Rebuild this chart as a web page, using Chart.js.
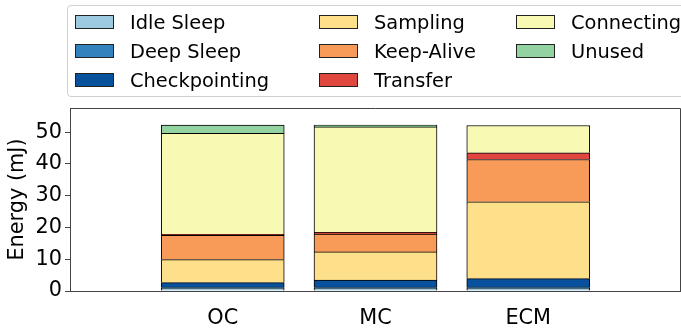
<!DOCTYPE html>
<html>
<head>
<meta charset="utf-8">
<script src="https://cdn.jsdelivr.net/npm/chart.js@4"></script>
<style>
  html, body { margin: 0; padding: 0; background: #fff; overflow: hidden; }
  #wrap { position: relative; width: 681px; height: 331px; overflow: hidden; }
  #legend {
    position: absolute; left: 67px; top: 5px; width: 622px; height: 92px;
    border: 1px solid #d0d0d0; border-radius: 4px; box-sizing: border-box;
    font-family: 'DejaVu Sans', sans-serif; font-size: 19.4px; color: #000;
  }
  .item { position: absolute; height: 24px; display: flex; align-items: center; white-space: nowrap; }
  .sw { width: 37px; height: 12px; border: 1px solid #222; margin-right: 16px; flex: none; }
</style>
</head>
<body>
<div id="wrap">
  <canvas id="c" width="681" height="331"></canvas>
  <div id="legend"></div>
</div>
<script>
// categories and values (mJ)
const categories = ['OC', 'MC', 'ECM'];
const idleSleep     = [1.0, 1.0, 1.0];
const deepSleep     = [0.2, 0.2, 0.2];
const checkpointing = [1.45, 2.2, 2.7];
const sampling      = [7.25, 8.9, 24.2];
const keepAlive     = [7.6, 5.6, 13.3];
const transfer      = [0.3, 0.6, 2.1];
const connecting    = [31.85, 33.2, 8.6];
const unused        = [2.55, 0.5, 0];
const yTicks = [0, 10, 20, 30, 40, 50];

const seriesNames  = ['Idle Sleep', 'Deep Sleep', 'Checkpointing', 'Sampling', 'Keep-Alive', 'Transfer', 'Connecting', 'Unused'];
const seriesValues = [idleSleep, deepSleep, checkpointing, sampling, keepAlive, transfer, connecting, unused];
const seriesColors = ['#9ecae1', '#3182bd', '#08519c', '#fee08b', '#f99b58', '#e0473f', '#f8fab3', '#93d3a2'];

const FONT = { family: 'DejaVu Sans', size: 20.8 };

// pad with empty slots so the 3 bars sit at -1..3 like the original xlim
const labels = [''].concat(categories, ['']);
const pad = arr => [null].concat(arr, [null]);

const datasets = seriesNames.map((name, i) => ({
  label: name,
  data: pad(seriesValues[i]),
  backgroundColor: seriesColors[i],
  borderColor: '#000',
  borderWidth: 1,
  barThickness: 123
}));

// frame top + right like matplotlib spines
const frame = {
  id: 'frame',
  afterDatasetsDraw(chart) {
    const a = chart.chartArea, ctx = chart.ctx;
    ctx.save();
    ctx.strokeStyle = '#444';
    ctx.lineWidth = 1;
    ctx.beginPath();
    ctx.moveTo(a.left, a.top + 0.5);
    ctx.lineTo(a.right - 0.5, a.top + 0.5);
    ctx.lineTo(a.right - 0.5, a.bottom);
    ctx.stroke();
    ctx.restore();
  }
};

new Chart(document.getElementById('c'), {
  type: 'bar',
  data: { labels: labels, datasets: datasets },
  plugins: [frame],
  options: {
    responsive: false,
    animation: false,
    layout: { padding: { top: 108, right: 0, left: 0, bottom: 0 } },
    plugins: { legend: { display: false }, tooltip: { enabled: false } },
    scales: {
      x: {
        stacked: true,
        offset: false,
        afterFit: s => { s.height = 40; s.paddingLeft = 0; s.paddingRight = 0; },
        border: { display: true, color: '#444', width: 1 },
        grid: { offset: false, drawOnChartArea: false, tickLength: 5, color: 'rgba(0,0,0,0)' },
        ticks: { color: '#000', font: FONT, padding: 10, maxRotation: 0, autoSkip: false }
      },
      y: {
        stacked: true,
        min: 0,
        max: 57.6,
        afterFit: s => { s.width = 70; },
        afterBuildTicks: s => { s.ticks = yTicks.map(v => ({ value: v })); },
        border: { display: true, color: '#444', width: 1 },
        grid: { drawOnChartArea: false, tickLength: 5, color: '#444' },
        ticks: { color: '#000', font: FONT, padding: 3 },
        title: { display: true, text: 'Energy (mJ)', color: '#000', font: FONT, padding: { top: 5, bottom: 0 } }
      }
    }
  }
});

// matplotlib-style 3-column legend, column-major order
const legendEl = document.getElementById('legend');
const colX = [7, 251, 448];
const rowY = [4, 33, 62];
seriesNames.forEach((name, i) => {
  const col = Math.floor(i / 3), row = i % 3;
  const item = document.createElement('div');
  item.className = 'item';
  item.style.left = colX[col] + 'px';
  item.style.top = rowY[row] + 'px';
  const sw = document.createElement('span');
  sw.className = 'sw';
  sw.style.background = seriesColors[i];
  const tx = document.createElement('span');
  tx.textContent = name;
  item.appendChild(sw);
  item.appendChild(tx);
  legendEl.appendChild(item);
});
</script>
</body>
</html>
